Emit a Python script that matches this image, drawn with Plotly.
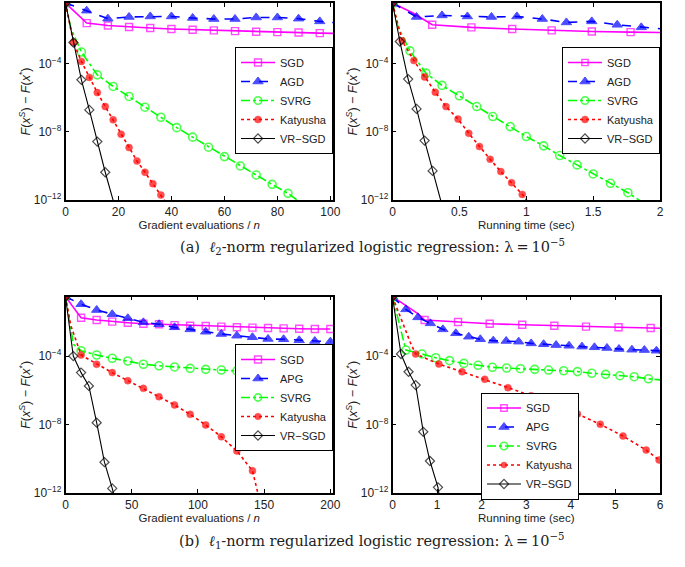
import plotly.graph_objects as go

# ---------------- data (log10 of F(x^s)-F(x*)) ----------------
# (a) l2, gradient evaluations
a1_sgd_x = [0, 8, 16, 24, 32, 40, 48, 56, 64, 72, 80, 88, 96, 104]
a1_sgd_y = [-0.43, -1.61, -1.75, -1.84, -1.90, -1.96, -2.00, -2.04, -2.08, -2.12, -2.14, -2.16, -2.20, -2.22]
a1_agd_x = [0, 8, 16, 24, 32, 40, 48, 56, 64, 72, 80, 88, 96, 104]
a1_agd_y = [-0.43, -0.88, -1.35, -1.25, -1.22, -1.22, -1.31, -1.37, -1.37, -1.28, -1.28, -1.35, -1.51, -1.62]
a1_svrg_x = [0, 6, 12, 18, 24, 30, 36, 42, 48, 54, 60, 66, 72, 78, 84, 90]
a1_svrg_y = [-0.43, -3.31, -4.65, -5.33, -5.92, -6.55, -7.14, -7.75, -8.31, -8.90, -9.45, -10.00, -10.53, -11.08, -11.61, -12.3]
a1_svrg_bx = [2]
a1_svrg_by = [-1.9]
a1_kat_x = [0, 3, 6, 9, 12, 15, 18, 21, 24, 27, 30, 33, 36, 39]
a1_kat_y = [-0.43, -2.75, -3.86, -4.80, -5.69, -6.51, -7.29, -8.14, -8.92, -9.71, -10.37, -11.04, -11.71, -12.4]
a1_vr_x = [0, 3, 6, 9, 12, 15, 18.5]
a1_vr_y = [-0.43, -2.75, -4.94, -6.71, -8.57, -10.37, -12.3]

# (a) l2, running time
a2_sgd_x = [0, 0.297, 0.59, 0.895, 1.19, 1.49, 1.78, 2.05]
a2_sgd_y = [-0.43, -1.71, -1.86, -1.96, -2.04, -2.10, -2.14, -2.17]
a2_sgd_bx = [0.15]
a2_sgd_by = [-1.0]
a2_agd_x = [0, 0.18, 0.37, 0.56, 0.74, 0.93, 1.12, 1.30, 1.49, 1.68, 1.86, 2.05]
a2_agd_y = [-0.43, -1.25, -1.16, -1.22, -1.25, -1.22, -1.37, -1.57, -1.51, -1.71, -1.86, -1.98]
a2_svrg_x = [0, 0.13, 0.25, 0.37, 0.50, 0.63, 0.75, 0.88, 1.00, 1.13, 1.25, 1.38, 1.50, 1.63, 1.76, 1.90]
a2_svrg_y = [-0.43, -3.24, -4.55, -5.27, -5.88, -6.51, -7.10, -7.69, -8.27, -8.82, -9.39, -9.94, -10.47, -11.02, -11.57, -12.3]
a2_svrg_bx = [0.04]
a2_svrg_by = [-1.8]
a2_kat_x = [0, 0.072, 0.16, 0.24, 0.32, 0.40, 0.49, 0.57, 0.65, 0.73, 0.81, 0.89, 0.97, 1.03]
a2_kat_y = [-0.43, -2.65, -3.81, -4.78, -5.67, -6.51, -7.25, -8.08, -8.86, -9.61, -10.33, -10.98, -11.67, -12.3]
a2_vr_x = [0, 0.055, 0.117, 0.18, 0.24, 0.30, 0.37]
a2_vr_y = [-0.43, -2.69, -4.90, -6.65, -8.51, -10.29, -12.3]

# (b) l1, gradient evaluations
b1_x = [0, 11.76, 23.53, 35.29, 47.06, 58.82, 70.59, 82.35, 94.12, 105.88, 117.65,
        129.41, 141.18, 152.94, 164.71, 176.47, 188.24, 200.0]
b1_sgd_y = [-0.52, -1.75, -1.88, -1.98, -2.04, -2.10, -2.13, -2.18, -2.22, -2.23, -2.27,
            -2.31, -2.33, -2.35, -2.37, -2.39, -2.41, -2.41]
b1_apg_y = [-0.52, -0.96, -1.30, -1.55, -1.78, -2.02, -2.13, -2.31, -2.43, -2.57, -2.70,
            -2.80, -2.89, -2.99, -3.01, -3.07, -3.11, -3.15]
b1_svrg_y = [-0.52, -3.68, -3.93, -4.12, -4.28, -4.47, -4.56, -4.63, -4.71, -4.77, -4.81,
             -4.86, -4.91, -4.96, -5.02, -5.08, -5.15, -5.26]
b1_svrg_bx = [3, 6]
b1_svrg_by = [-1.8, -3.3]
b1_kat_x = [0, 11.76, 23.53, 35.29, 47.06, 58.82, 70.59, 82.35, 94.12, 105.88, 117.65,
            129.41, 141.18, 146.5]
b1_kat_y = [-0.52, -3.93, -4.47, -4.96, -5.43, -5.88, -6.37, -6.85, -7.40, -8.02, -8.71,
            -9.54, -10.70, -12.4]
b1_kat_bx = [4]
b1_kat_by = [-2.2]
b1_vr_x = [0, 5.88, 11.76, 17.65, 23.53, 29.41, 35.29, 37.5]
b1_vr_y = [-0.52, -3.99, -4.96, -5.74, -7.89, -10.20, -11.73, -12.4]

# (b) l1, running time
b2_sgd_x = [0, 0.72, 1.47, 2.18, 2.91, 3.63, 4.34, 5.07, 5.79, 6.1]
b2_sgd_y = [-0.52, -1.88, -2.00, -2.10, -2.16, -2.22, -2.27, -2.31, -2.35, -2.37]
b2_sgd_bx = [0.56]
b2_sgd_by = [-1.49]
b2_apg_x = [0, 0.30, 0.57, 0.85, 1.13, 1.42, 1.71, 1.97, 2.26, 2.55, 2.83, 3.11, 3.39,
            3.67, 3.96, 4.25, 4.53, 4.81, 5.08, 5.37, 5.65, 5.92, 6.1]
b2_apg_y = [-0.52, -1.26, -1.73, -2.08, -2.43, -2.66, -2.86, -3.01, -3.09, -3.11, -3.15,
            -3.25, -3.30, -3.35, -3.39, -3.44, -3.48, -3.52, -3.58, -3.62, -3.64, -3.68, -3.70]
b2_svrg_x = [0, 0.30, 0.66, 0.97, 1.28, 1.60, 1.92, 2.24, 2.56, 2.87, 3.19, 3.50, 3.84,
             4.15, 4.47, 4.78, 5.10, 5.42, 5.74, 6.1]
b2_svrg_y = [-0.52, -3.64, -3.87, -4.09, -4.26, -4.42, -4.53, -4.65, -4.69, -4.73, -4.77,
             -4.81, -4.85, -4.90, -5.00, -5.06, -5.14, -5.20, -5.32, -5.41]
b2_svrg_bx = [0.15]
b2_svrg_by = [-2.08]
b2_kat_x = [0, 0.52, 1.04, 1.56, 2.07, 2.59, 3.11, 3.63, 4.15, 4.66, 5.17, 5.69, 5.98]
b2_kat_y = [-0.52, -3.87, -4.46, -4.91, -5.35, -5.84, -6.31, -6.81, -7.38, -7.98, -8.67,
            -9.49, -10.07]
b2_kat_bx = [0.25, 0.40]
b2_kat_by = [-2.2, -3.2]
b2_vr_x = [0, 0.19, 0.36, 0.52, 0.69, 0.84, 1.02, 1.06]
b2_vr_y = [-0.52, -3.87, -4.91, -5.69, -8.42, -10.13, -11.67, -12.4]

ytick_vals = [1e-4, 1e-8, 1e-12]
ytick_text = ["10<sup>\u22124</sup>", "10<sup>\u22128</sup>", "10<sup>\u221212</sup>"]

# ---------------- styles ----------------
STY = {
    "SGD": dict(color="#FF00FF", dash="solid", symbol="square-open", size=7, lw=1.6, mlw=1.4),
    "AGD": dict(color="#0000FF", dash="dash", symbol="triangle-up", size=9, lw=1.6, mlw=1.0),
    "APG": dict(color="#0000FF", dash="dash", symbol="triangle-up", size=9, lw=1.6, mlw=1.0),
    "SVRG": dict(color="#00FF00", dash="dashdot", symbol="circle-open", size=8, lw=1.6, mlw=1.6),
    "Katyusha": dict(color="#FF0000", dash="dot", symbol="circle", size=7, lw=1.6, mlw=0.5),
    "VR\u2212SGD": dict(color="#000000", dash="solid", symbol="diamond-open", size=7, lw=1.1, mlw=1.2),
}

fig = go.Figure()


def add(name, xs, ys, xaxis, yaxis, legend, bx=None, by=None):
    pts = [(x, 10 ** y, True) for x, y in zip(xs, ys)]
    if bx:
        pts += [(x, 10 ** y, False) for x, y in zip(bx, by)]
    pts.sort(key=lambda p: p[0])
    s = STY[name]
    sizes = [s["size"] if m else 0 for _, _, m in pts]
    fig.add_trace(go.Scatter(
        x=[p[0] for p in pts], y=[p[1] for p in pts], name=name,
        mode="lines+markers", xaxis=xaxis, yaxis=yaxis, legend=legend,
        line=dict(color=s["color"], dash=s["dash"], width=s["lw"]),
        marker=dict(symbol=s["symbol"], size=sizes, color=s["color"],
                    line=dict(color=s["color"], width=s["mlw"])),
        cliponaxis=True,
    ))


add("SGD", a1_sgd_x, a1_sgd_y, "x", "y", "legend")
add("AGD", a1_agd_x, a1_agd_y, "x", "y", "legend")
add("SVRG", a1_svrg_x, a1_svrg_y, "x", "y", "legend", a1_svrg_bx, a1_svrg_by)
add("Katyusha", a1_kat_x, a1_kat_y, "x", "y", "legend")
add("VR\u2212SGD", a1_vr_x, a1_vr_y, "x", "y", "legend")

add("SGD", a2_sgd_x, a2_sgd_y, "x2", "y2", "legend2", a2_sgd_bx, a2_sgd_by)
add("AGD", a2_agd_x, a2_agd_y, "x2", "y2", "legend2")
add("SVRG", a2_svrg_x, a2_svrg_y, "x2", "y2", "legend2", a2_svrg_bx, a2_svrg_by)
add("Katyusha", a2_kat_x, a2_kat_y, "x2", "y2", "legend2")
add("VR\u2212SGD", a2_vr_x, a2_vr_y, "x2", "y2", "legend2")

add("SGD", b1_x, b1_sgd_y, "x3", "y3", "legend3")
add("APG", b1_x, b1_apg_y, "x3", "y3", "legend3")
add("SVRG", b1_x, b1_svrg_y, "x3", "y3", "legend3", b1_svrg_bx, b1_svrg_by)
add("Katyusha", b1_kat_x, b1_kat_y, "x3", "y3", "legend3", b1_kat_bx, b1_kat_by)
add("VR\u2212SGD", b1_vr_x, b1_vr_y, "x3", "y3", "legend3")

add("SGD", b2_sgd_x, b2_sgd_y, "x4", "y4", "legend4", b2_sgd_bx, b2_sgd_by)
add("APG", b2_apg_x, b2_apg_y, "x4", "y4", "legend4")
add("SVRG", b2_svrg_x, b2_svrg_y, "x4", "y4", "legend4", b2_svrg_bx, b2_svrg_by)
add("Katyusha", b2_kat_x, b2_kat_y, "x4", "y4", "legend4", b2_kat_bx, b2_kat_by)
add("VR\u2212SGD", b2_vr_x, b2_vr_y, "x4", "y4", "legend4")

W, H = 685, 567


def px(v):
    return v / W


def py(v):
    return 1 - v / H


SANS = "Liberation Sans, Arial, sans-serif"
axis_common = dict(showline=True, linecolor="black", linewidth=1.5, mirror="ticks",
                   ticks="inside", ticklen=4, tickcolor="black", showgrid=False,
                   zeroline=False, automargin=False,
                   tickfont=dict(family=SANS, size=12, color="#222"))

L1, R1 = 65.5, 333
L2, R2 = 392.5, 660
T1, B1 = 3, 200
T2, B2 = 296.7, 493

ytitle = "<i>F</i>(<i>x</i><sup><i>S</i></sup>) \u2212 <i>F</i>(<i>x</i><sup>*</sup>)"

layout = dict(
    width=W, height=H, margin=dict(l=0, r=0, t=0, b=0, autoexpand=False),
    paper_bgcolor="white", plot_bgcolor="white", showlegend=True,
)

xspecs = {
    "xaxis": ([L1, R1], [0, 101], "y", [0, 20, 40, 60, 80, 100], "Gradient evaluations / <i>n</i>"),
    "xaxis2": ([L2, R2], [0, 2], "y2", [0, 0.5, 1, 1.5, 2], "Running time (sec)"),
    "xaxis3": ([L1, R1], [0, 202], "y3", [0, 50, 100, 150, 200], "Gradient evaluations / <i>n</i>"),
    "xaxis4": ([L2, R2], [0, 6], "y4", [0, 1, 2, 3, 4, 5, 6], "Running time (sec)"),
}
for k, (dom, rng, anchor, tv, title) in xspecs.items():
    layout[k] = dict(axis_common, domain=[px(dom[0]), px(dom[1])], range=rng, anchor=anchor,
                     tickvals=tv, title=dict(text=title, font=dict(family=SANS, size=11.5, color="#222"),
                                             standoff=0))

yspecs = {
    "yaxis": ([T1, B1], "x", -0.43),
    "yaxis2": ([T1, B1], "x2", -0.43),
    "yaxis3": ([T2, B2], "x3", -0.52),
    "yaxis4": ([T2, B2], "x4", -0.52),
}
for k, (dom, anchor, top) in yspecs.items():
    layout[k] = dict(axis_common, type="log", domain=[py(dom[1]), py(dom[0])], range=[-12, top],
                     anchor=anchor, tickvals=ytick_vals, ticktext=ytick_text,
                     title=dict(text=ytitle, font=dict(family=SANS, size=12.5, color="#222"), standoff=0))

leg_common = dict(bgcolor="white", bordercolor="black", borderwidth=1,
                  font=dict(family=SANS, size=11, color="#222"), xanchor="right", yanchor="middle",
                  tracegroupgap=0, itemwidth=34)
layout["legend"] = dict(leg_common, x=px(R1), y=py(100.5))
layout["legend2"] = dict(leg_common, x=px(R2), y=py(100.5))
layout["legend3"] = dict(leg_common, x=px(R1), y=py(397.5))
layout["legend4"] = dict(leg_common, x=px(579), y=py(446))

SERIF = "DejaVu Serif, Liberation Serif, serif"
layout["annotations"] = [
    dict(text="(a)  <i>\u2113</i><sub>2</sub>-norm regularized logistic regression: \u03bb\u2009=\u200910<sup>\u22125</sup>",
         x=px(372), y=py(247), xref="paper", yref="paper", showarrow=False,
         font=dict(family=SERIF, size=14.5, color="#222"), xanchor="center", yanchor="middle"),
    dict(text="(b)  <i>\u2113</i><sub>1</sub>-norm regularized logistic regression: \u03bb\u2009=\u200910<sup>\u22125</sup>",
         x=px(372), y=py(541), xref="paper", yref="paper", showarrow=False,
         font=dict(family=SERIF, size=14.5, color="#222"), xanchor="center", yanchor="middle"),
]

fig.update_layout(**layout)
fig.write_html("out.html", config={"displayModeBar": False},
               post_script="document.body.style.margin='0';document.body.style.padding='0';")
